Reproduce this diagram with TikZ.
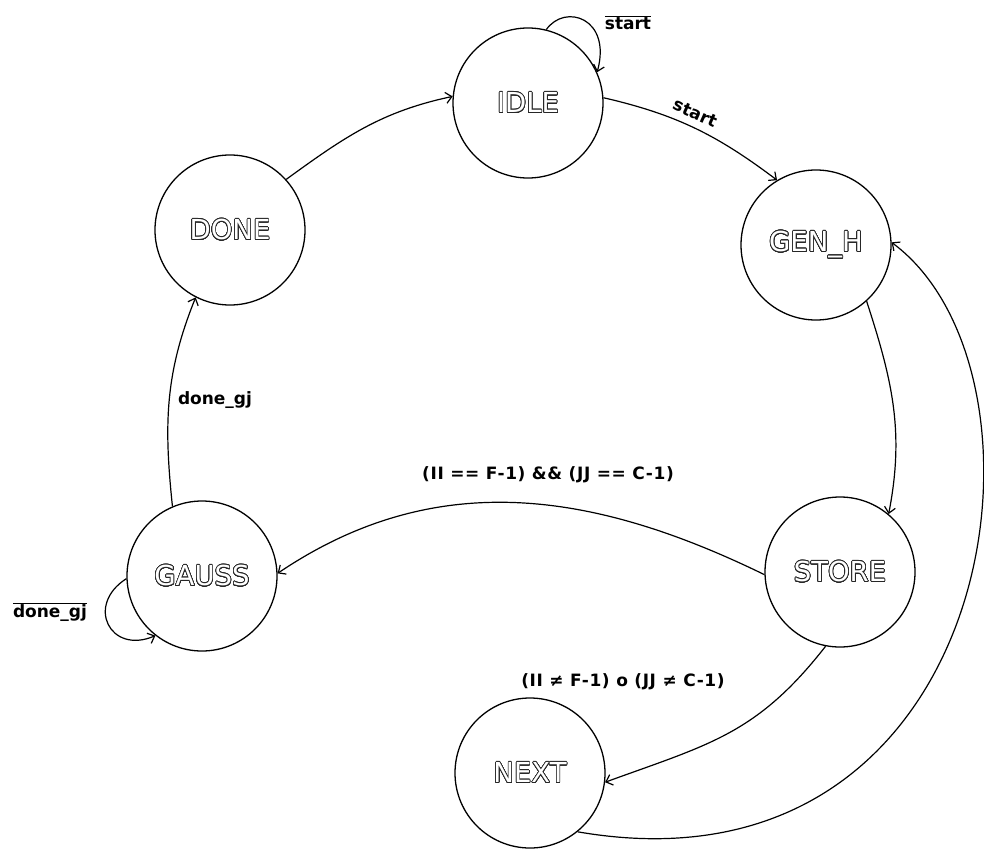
\documentclass[tikz,border=0pt]{standalone}
\usepackage{fontspec}
\setmainfont{DejaVu Sans}
\usepackage{contour}
\contourlength{0.7pt}
\contournumber{32}
\usetikzlibrary{arrows.meta}
\newcommand{\statetxt}[1]{\contour{black!85}{\textcolor{white}{#1}}}
\newcommand{\ovl}[1]{$\overline{\hbox{#1}}$}
\begin{document}
\begin{tikzpicture}[x=1pt,y=1pt,
  state/.style={circle, draw, line width=1.3pt, minimum size=150pt, inner sep=0pt, font=\fontsize{27.5}{30}\selectfont},
  edge/.style={line width=1.2pt, -{Straight Barb[length=6pt,width=11pt]}},
  lbl/.style={font=\fontsize{17}{19}\selectfont\bfseries, inner sep=0pt},
  cond/.style={font=\fontsize{17}{19}\selectfont\bfseries\addfontfeature{LetterSpace=3.5}, inner sep=0pt}]
\useasboundingbox (0,0) rectangle (984,-848);
\node[state] (idle)  at (528,-103) {\statetxt{IDLE}};
\node[state] (gen)   at (816,-245) {\statetxt{GEN\_H}};
\node[state] (store) at (840,-572) {\statetxt{STORE}};
\node[state] (next)  at (530,-773) {\statetxt{NEXT}};
\node[state] (gauss) at (202,-576) {\statetxt{GAUSS}};
\node[state] (done)  at (230,-230) {\statetxt{DONE}};

\draw[edge] (idle.76) .. controls (565,-3) and (612,-18) .. (idle.24);
\draw[edge] (idle.4) to[out=-13,in=143] (gen.121);
\draw[edge] (gen.-48) to[out=-72,in=79] (store.50);
\draw[edge] (store.182) to[out=154,in=34] (gauss.2);
\draw[edge] (store.-101) to[out=-128,in=20,looseness=1.1] (next.-7);
\draw[edge] (next.-51) .. controls (1000,-905) and (1070,-375) .. (gen.2);
\draw[edge] (gauss.113) to[out=96,in=-112] (done.-117);
\draw[edge] (gauss.182) .. controls (85,-605) and (110,-655) .. (gauss.-128);
\draw[edge] (done.42) to[out=36,in=192] (idle.175);

\node[lbl] (l1) at (628,-23) {\ovl{start}};
\node[lbl, rotate=-24] (l2) at (695,-113) {start};
\node[lbl] (l3) at (215,-400) {done\_gj};
\node[lbl] (l4) at (50,-612) {\ovl{done\_gj}};
\node[cond] (l5) at (548,-475) {(II == F-1) \&\& (JJ == C-1)};
\node[cond] (l6) at (623,-682) {(II ≠ F-1) o (JJ ≠ C-1)};
\end{tikzpicture}
\end{document}
